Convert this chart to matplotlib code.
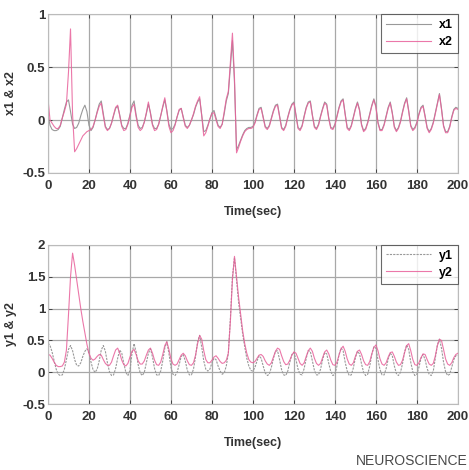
import numpy as np
import matplotlib
matplotlib.use('Agg')
from matplotlib import pyplot as plt

plt.rcParams['font.family'] = ['Liberation Sans', 'DejaVu Sans']
plt.rcParams['font.weight'] = 'bold'

# sample times (sec), one reading per second
time = np.arange(0, 201)

# top panel
x2 = [0.20, 0.00, -0.03, -0.06, -0.08, -0.08, -0.05, 0.02, 0.08, 0.15,
      0.45, 0.86, 0.05, -0.30, -0.27, -0.23, -0.19, -0.15, -0.13, -0.11,
      -0.10, -0.09, -0.06, 0.00, 0.07, 0.13, 0.16, 0.04, -0.07, -0.10,
      -0.08, -0.03, 0.05, 0.12, 0.14, 0.04, -0.06, -0.10, -0.09, -0.04,
      0.04, 0.12, 0.15, 0.03, -0.07, -0.10, -0.08, -0.02, 0.07, 0.17,
      0.06, -0.05, -0.10, -0.09, -0.04, 0.04, 0.13, 0.21, 0.08, -0.06,
      -0.12, -0.10, -0.05, 0.03, 0.10, 0.11, 0.02, -0.06, -0.08, -0.05,
      0.00, 0.06, 0.13, 0.18, 0.22, 0.04, -0.15, -0.12, -0.06, 0.01,
      0.06, 0.07, 0.00, -0.06, -0.08, -0.04, 0.08, 0.20, 0.27, 0.55,
      0.82, 0.40, -0.31, -0.26, -0.20, -0.15, -0.11, -0.09, -0.08, -0.08,
      -0.07, -0.03, 0.04, 0.10, 0.11, 0.02, -0.07, -0.09, -0.06, 0.01,
      0.08, 0.13, 0.14, 0.03, -0.08, -0.10, -0.06, 0.02, 0.09, 0.14,
      0.16, 0.04, -0.08, -0.10, -0.06, 0.03, 0.11, 0.16, 0.17, 0.04,
      -0.07, -0.09, -0.05, 0.03, 0.10, 0.16, 0.14, 0.01, -0.08, -0.09,
      -0.05, 0.03, 0.11, 0.17, 0.19, 0.05, -0.08, -0.10, -0.06, 0.02,
      0.10, 0.16, 0.09, -0.05, -0.11, -0.09, -0.03, 0.05, 0.13, 0.19,
      0.12, -0.03, -0.10, -0.10, -0.05, 0.03, 0.11, 0.16, 0.06, -0.07,
      -0.11, -0.08, -0.02, 0.07, 0.15, 0.20, 0.08, -0.06, -0.10, -0.08,
      -0.03, 0.05, 0.11, 0.13, 0.03, -0.08, -0.12, -0.09, -0.03, 0.06,
      0.15, 0.24, 0.10, -0.06, -0.12, -0.12, -0.07, 0.02, 0.09, 0.11,
      0.10]
x1 = [0.05, -0.05, -0.09, -0.10, -0.10, -0.09, -0.06, 0.02, 0.10, 0.17,
      0.19, 0.08, -0.04, -0.08, -0.07, -0.03, 0.04, 0.10, 0.14, 0.08,
      -0.05, -0.10, -0.07, 0.00, 0.08, 0.15, 0.18, 0.06, -0.06, -0.09,
      -0.08, -0.03, 0.04, 0.11, 0.13, 0.05, -0.05, -0.08, -0.08, -0.03,
      0.05, 0.14, 0.18, 0.05, -0.05, -0.08, -0.07, -0.02, 0.06, 0.15,
      0.07, -0.04, -0.08, -0.08, -0.04, 0.04, 0.12, 0.19, 0.09, -0.04,
      -0.09, -0.08, -0.04, 0.03, 0.09, 0.11, 0.03, -0.05, -0.07, -0.05,
      0.00, 0.05, 0.12, 0.17, 0.20, 0.05, -0.11, -0.10, -0.05, 0.01,
      0.07, 0.09, 0.02, -0.05, -0.07, -0.04, 0.06, 0.18, 0.25, 0.50,
      0.75, 0.35, -0.28, -0.24, -0.19, -0.14, -0.10, -0.08, -0.07, -0.07,
      -0.06, -0.02, 0.05, 0.11, 0.12, 0.03, -0.06, -0.08, -0.05, 0.02,
      0.09, 0.14, 0.15, 0.04, -0.07, -0.09, -0.05, 0.03, 0.10, 0.15,
      0.17, 0.05, -0.07, -0.09, -0.05, 0.04, 0.12, 0.17, 0.18, 0.05,
      -0.06, -0.08, -0.04, 0.04, 0.11, 0.17, 0.15, 0.02, -0.07, -0.08,
      -0.04, 0.04, 0.12, 0.18, 0.20, 0.06, -0.07, -0.09, -0.05, 0.03,
      0.11, 0.17, 0.10, -0.04, -0.10, -0.08, -0.02, 0.06, 0.14, 0.20,
      0.13, -0.02, -0.09, -0.09, -0.04, 0.04, 0.12, 0.17, 0.07, -0.06,
      -0.10, -0.07, -0.01, 0.08, 0.16, 0.21, 0.09, -0.05, -0.09, -0.07,
      -0.02, 0.06, 0.12, 0.14, 0.04, -0.07, -0.11, -0.08, -0.02, 0.07,
      0.16, 0.25, 0.11, -0.05, -0.11, -0.11, -0.06, 0.03, 0.10, 0.12,
      0.11]

# bottom panel
y2 = [0.28, 0.27, 0.22, 0.16, 0.11, 0.09, 0.09, 0.10, 0.16, 0.35,
      0.90, 1.50, 1.87, 1.68, 1.45, 1.22, 1.00, 0.80, 0.62, 0.44,
      0.30, 0.22, 0.19, 0.21, 0.25, 0.28, 0.27, 0.20, 0.14, 0.11,
      0.11, 0.16, 0.26, 0.35, 0.38, 0.30, 0.19, 0.12, 0.10, 0.14,
      0.24, 0.33, 0.36, 0.28, 0.18, 0.13, 0.13, 0.18, 0.27, 0.35,
      0.38, 0.30, 0.19, 0.12, 0.11, 0.16, 0.28, 0.42, 0.48, 0.36,
      0.21, 0.13, 0.11, 0.13, 0.20, 0.27, 0.30, 0.26, 0.18, 0.12,
      0.11, 0.15, 0.27, 0.45, 0.58, 0.52, 0.34, 0.20, 0.15, 0.15,
      0.19, 0.24, 0.26, 0.22, 0.17, 0.14, 0.15, 0.19, 0.30, 0.80,
      1.45, 1.82, 1.50, 1.18, 0.92, 0.65, 0.45, 0.30, 0.20, 0.16,
      0.15, 0.17, 0.22, 0.27, 0.28, 0.25, 0.18, 0.13, 0.11, 0.15,
      0.24, 0.33, 0.38, 0.36, 0.26, 0.17, 0.12, 0.13, 0.19, 0.27,
      0.32, 0.30, 0.22, 0.14, 0.11, 0.15, 0.25, 0.34, 0.38, 0.33,
      0.22, 0.14, 0.11, 0.14, 0.23, 0.32, 0.35, 0.29, 0.19, 0.12,
      0.11, 0.16, 0.27, 0.37, 0.41, 0.33, 0.21, 0.13, 0.11, 0.15,
      0.25, 0.33, 0.35, 0.28, 0.18, 0.12, 0.11, 0.17, 0.29, 0.39,
      0.43, 0.34, 0.21, 0.13, 0.11, 0.15, 0.24, 0.31, 0.32, 0.25,
      0.16, 0.11, 0.12, 0.19, 0.31, 0.42, 0.45, 0.34, 0.20, 0.12,
      0.11, 0.15, 0.23, 0.29, 0.28, 0.20, 0.13, 0.11, 0.14, 0.26,
      0.42, 0.52, 0.50, 0.36, 0.21, 0.13, 0.11, 0.15, 0.23, 0.28,
      0.30]
y1 = [0.46, 0.42, 0.32, 0.18, 0.05, -0.03, -0.05, -0.04, 0.05, 0.20,
      0.36, 0.42, 0.34, 0.20, 0.11, 0.10, 0.15, 0.25, 0.33, 0.37,
      0.30, 0.16, 0.04, 0.00, 0.05, 0.18, 0.35, 0.42, 0.33, 0.15,
      0.01, -0.05, -0.04, 0.06, 0.22, 0.35, 0.30, 0.14, 0.00, -0.05,
      0.03, 0.30, 0.45, 0.32, 0.12, -0.01, -0.05, 0.00, 0.15, 0.30,
      0.37, 0.24, 0.06, -0.04, -0.05, 0.02, 0.18, 0.38, 0.48, 0.30,
      0.08, -0.03, -0.05, 0.00, 0.12, 0.25, 0.28, 0.18, 0.03, -0.04,
      -0.04, 0.05, 0.25, 0.48, 0.58, 0.40, 0.18, 0.05, 0.02, 0.05,
      0.15, 0.22, 0.20, 0.10, 0.02, -0.03, -0.01, 0.10, 0.30, 0.85,
      1.50, 1.80, 1.45, 1.10, 0.85, 0.60, 0.40, 0.22, 0.10, 0.03,
      0.02, 0.08, 0.18, 0.26, 0.22, 0.10, -0.01, -0.05, -0.03, 0.08,
      0.22, 0.33, 0.34, 0.20, 0.04, -0.04, -0.05, 0.02, 0.16, 0.28,
      0.31, 0.20, 0.05, -0.03, -0.04, 0.06, 0.22, 0.34, 0.33, 0.18,
      0.03, -0.04, -0.04, 0.05, 0.20, 0.31, 0.29, 0.14, 0.01, -0.05,
      -0.03, 0.10, 0.28, 0.38, 0.34, 0.16, 0.02, -0.05, -0.04, 0.07,
      0.23, 0.33, 0.29, 0.13, 0.00, -0.05, -0.03, 0.10, 0.28, 0.40,
      0.38, 0.20, 0.04, -0.04, -0.04, 0.06, 0.21, 0.30, 0.26, 0.10,
      -0.02, -0.05, 0.00, 0.14, 0.32, 0.43, 0.36, 0.16, 0.01, -0.05,
      -0.03, 0.08, 0.22, 0.28, 0.20, 0.06, -0.03, -0.05, 0.02, 0.22,
      0.43, 0.52, 0.38, 0.16, 0.01, -0.05, -0.03, 0.08, 0.20, 0.26,
      0.27]

GRAY = '#999999'
PINK = '#e8609a'
GRID = '#a8a8a8'


def style_axes(ax, ylim, yticks, ylabel):
    ax.set_xlim(0, 200)
    ax.set_ylim(*ylim)
    ax.set_xticks(range(0, 201, 20))
    ax.set_yticks(yticks)
    ax.set_yticklabels(['{:g}'.format(v) for v in yticks])
    ax.grid(True, color=GRID, linewidth=0.9)
    ax.tick_params(direction='in', top=True, right=True, length=3,
                   labelsize=9.5, width=0.6, colors='#333333')
    ax.tick_params(axis='x', pad=5)
    ax.tick_params(axis='y', pad=2)
    for s in ax.spines.values():
        s.set_color('#bbbbbb')
        s.set_linewidth(0.8)
    ax.set_xlabel('Time(sec)', fontsize=9, fontweight='bold', color='#333333', labelpad=10)
    ax.set_ylabel(ylabel, fontsize=9, fontweight='bold', color='#333333', labelpad=4)


fig = plt.figure(figsize=(4.69, 4.70), dpi=100)
ax1 = fig.add_axes([0.1023, 0.632, 0.874, 0.338])
ax2 = fig.add_axes([0.1023, 0.140, 0.874, 0.339])

ax1.plot(time, x1, color=GRAY, lw=0.8, label='x1')
ax1.plot(time, x2, color=PINK, lw=0.8, alpha=0.85, label='x2')
style_axes(ax1, (-0.5, 1), [-0.5, 0, 0.5, 1], 'x1 & x2')
leg = ax1.legend(loc='upper right', borderaxespad=0.0, fancybox=False,
                 edgecolor='#444444', fontsize=9, handlelength=3.6,
                 borderpad=0.4, labelspacing=0.4, handletextpad=0.6)
leg.get_frame().set_linewidth(0.8)
for t in leg.get_texts():
    t.set_fontweight('bold')

ax2.plot(time, y1, color=GRAY, lw=0.8, linestyle=(0, (2, 1)), label='y1')
ax2.plot(time, y2, color=PINK, lw=0.8, alpha=0.85, label='y2')
style_axes(ax2, (-0.5, 2), [-0.5, 0, 0.5, 1, 1.5, 2], 'y1 & y2')
leg = ax2.legend(loc='upper right', borderaxespad=0.0, fancybox=False,
                 edgecolor='#444444', fontsize=9, handlelength=3.6,
                 borderpad=0.4, labelspacing=0.4, handletextpad=0.6)
leg.get_frame().set_linewidth(0.8)
for t in leg.get_texts():
    t.set_fontweight('bold')

# journal watermark at the bottom right corner
fig.text(0.997, 0.004, 'NEUROSCIENCE', fontsize=10, color='#4a4a4a',
         fontweight='normal', va='bottom', ha='right')

fig.savefig('out.png', dpi=100)
